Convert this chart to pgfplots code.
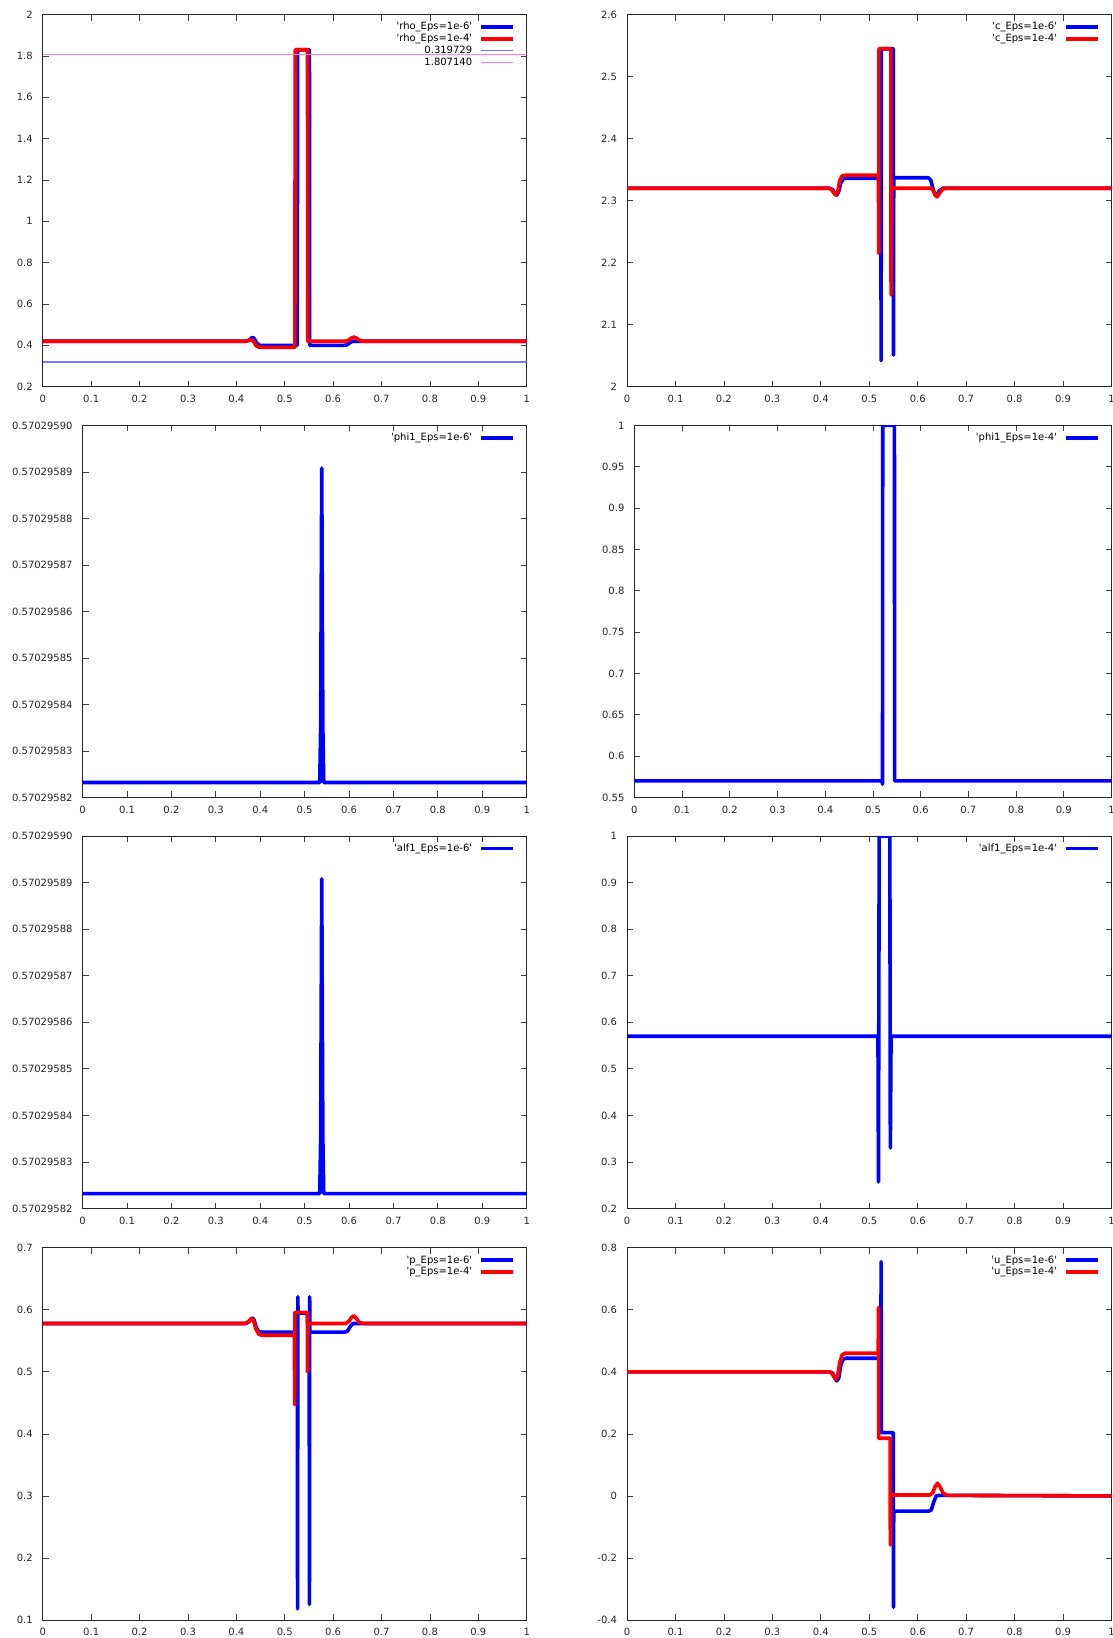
\documentclass[border=0pt]{standalone}
\usepackage{fontspec}
\setmainfont{DejaVu Sans}
\usepackage{pgfplots}
\pgfplotsset{compat=1.18}
\definecolor{lblue}{RGB}{120,120,255}
\definecolor{lmag}{RGB}{255,120,255}
\newcommand{\sq}{\textquotesingle}
\pgfplotsset{
  gp/.style={
    scale only axis, xmin=0, xmax=1,
    xtick={0,0.1,0.2,0.3,0.4,0.5,0.6,0.7,0.8,0.9,1},
    tick align=inside, xtick pos=both, ytick pos=both,
    major tick length=6pt,
    axis line style={line width=1pt, black!85},
    every tick/.style={black!75, line width=0.8pt},
    tick label style={font=\fontsize{10}{12}\selectfont, black!85},
    /pgf/number format/assume math mode=true,
    yticklabel style={xshift=-6.5pt},
    xticklabel style={yshift=-5pt},
    legend plot pos=right,
    legend cell align=right,
    legend image code/.code={\draw[##1,line cap=butt] (0pt,0pt) -- (32pt,0pt);},
    legend style={at={(1,1)}, anchor=north east, xshift=-11.7pt, yshift=-6.3pt,
      draw=none, fill=none, inner sep=0pt, font=\fontsize{10}{12}\selectfont,
      column sep=6pt,
      nodes={inner sep=1pt, text height=0.78em, text depth=0.2em}},
  },
  bl/.style={color=blue, line width=3.6pt, line join=round, mark=none},
  rd/.style={color=red, line width=3.6pt, line join=round, mark=none},
}
\begin{document}
\begin{tikzpicture}
\path[use as bounding box] (0pt,0pt) rectangle (1113pt,-1638pt);
% ---------- row 1 left: rho
\begin{axis}[gp, at={(42.8pt,-386.7pt)}, anchor=south west, width=483.9pt, height=372.1pt,
  ymin=0.2, ymax=2, ytick={0.2,0.4,0.6,0.8,1,1.2,1.4,1.6,1.8,2}]
\addplot[bl] coordinates {(0,0.42) (0.420,0.42) (0.426,0.424) (0.432,0.437) (0.436,0.436) (0.441,0.415) (0.446,0.402) (0.450,0.40) (0.526,0.40) (0.5265,1.83) (0.551,1.83) (0.5515,0.40) (0.622,0.40) (0.628,0.402) (0.634,0.412) (0.640,0.42) (1,0.42)};
\addlegendentry{\sq rho\_Eps=1e-6\sq}
\addplot[rd] coordinates {(0,0.42) (0.418,0.42) (0.425,0.424) (0.430,0.428) (0.436,0.418) (0.441,0.398) (0.447,0.391) (0.452,0.39) (0.521,0.39) (0.5215,1.83) (0.547,1.83) (0.5475,0.42) (0.625,0.42) (0.632,0.425) (0.638,0.436) (0.643,0.44) (0.648,0.435) (0.654,0.425) (0.660,0.421) (0.666,0.42) (1,0.42)};
\addlegendentry{\sq rho\_Eps=1e-4\sq}
\addplot[color=lblue, line width=1.3pt, mark=none] coordinates {(0,0.319729) (1,0.319729)};
\addlegendentry{0.319729}
\addplot[color=lmag, line width=1.3pt, mark=none] coordinates {(0,1.807140) (1,1.807140)};
\addlegendentry{1.807140}
\end{axis}
% ---------- row 1 right: c
\begin{axis}[gp, at={(627pt,-386.7pt)}, anchor=south west, width=484.5pt, height=372.1pt,
  ymin=2, ymax=2.6, ytick={2,2.1,2.2,2.3,2.4,2.5,2.6}]
\addplot[bl] coordinates {(0,2.32) (0.418,2.32) (0.424,2.318) (0.429,2.311) (0.433,2.309) (0.437,2.315) (0.441,2.328) (0.446,2.335) (0.452,2.336) (0.524,2.336) (0.5245,2.042) (0.525,2.545) (0.5495,2.545) (0.550,2.051) (0.5505,2.337) (0.622,2.337) (0.627,2.333) (0.632,2.318) (0.636,2.309) (0.640,2.31) (0.645,2.316) (0.652,2.32) (1,2.32)};
\addlegendentry{\sq c\_Eps=1e-6\sq}
\addplot[rd] coordinates {(0,2.32) (0.416,2.32) (0.422,2.318) (0.427,2.312) (0.431,2.309) (0.435,2.315) (0.439,2.332) (0.444,2.340) (0.450,2.341) (0.519,2.341) (0.5195,2.215) (0.520,2.545) (0.5445,2.545) (0.545,2.148) (0.5455,2.32) (0.626,2.32) (0.631,2.318) (0.636,2.309) (0.640,2.306) (0.645,2.312) (0.652,2.319) (0.66,2.32) (1,2.32)};
\addlegendentry{\sq c\_Eps=1e-4\sq}
\end{axis}
% ---------- row 2 left: phi1 1e-6 (offset from 0.57029582 in units of 1e-8)
\begin{axis}[gp, at={(82.6pt,-797.4pt)}, anchor=south west, width=444.1pt, height=372pt,
  ymin=0, ymax=8, ytick={0,1,2,3,4,5,6,7,8},
  yticklabels={0.57029582,0.57029583,0.57029584,0.57029585,0.57029586,0.57029587,0.57029588,0.57029589,0.57029590}]
\addplot[bl] coordinates {(0,0.32) (0.534,0.32) (0.536,1.5) (0.5385,7.08) (0.541,1.5) (0.543,0.32) (1,0.32)};
\addlegendentry{\sq phi1\_Eps=1e-6\sq}
\end{axis}
% ---------- row 2 right: phi1 1e-4
\begin{axis}[gp, at={(634.4pt,-797.4pt)}, anchor=south west, width=477.1pt, height=372pt,
  ymin=0.55, ymax=1, ytick={0.55,0.6,0.65,0.7,0.75,0.8,0.85,0.9,0.95,1}]
\addplot[bl] coordinates {(0,0.57) (0.519,0.57) (0.520,0.566) (0.5205,1.0) (0.545,1.0) (0.5455,0.57) (1,0.57)};
\addlegendentry{\sq phi1\_Eps=1e-4\sq}
\end{axis}
% ---------- row 3 left: alf1 1e-6
\begin{axis}[gp, at={(82.6pt,-1208.5pt)}, anchor=south west, width=444.1pt, height=372.5pt,
  ymin=0, ymax=8, ytick={0,1,2,3,4,5,6,7,8},
  yticklabels={0.57029582,0.57029583,0.57029584,0.57029585,0.57029586,0.57029587,0.57029588,0.57029589,0.57029590}]
\addplot[bl] coordinates {(0,0.32) (0.534,0.32) (0.536,1.5) (0.5385,7.08) (0.541,1.5) (0.543,0.32) (1,0.32)};
\addlegendentry{\sq alf1\_Eps=1e-6\sq}
\end{axis}
% ---------- row 3 right: alf1 1e-4
\begin{axis}[gp, at={(627pt,-1208.5pt)}, anchor=south west, width=484.5pt, height=372.5pt,
  ymin=0.2, ymax=1, ytick={0.2,0.3,0.4,0.5,0.6,0.7,0.8,0.9,1}]
\addplot[bl] coordinates {(0,0.57) (0.518,0.57) (0.519,0.257) (0.5205,1.0) (0.5425,1.0) (0.5435,0.33) (0.545,0.57) (1,0.57)};
\addlegendentry{\sq alf1\_Eps=1e-4\sq}
\end{axis}
% ---------- row 4 left: p
\begin{axis}[gp, at={(42.8pt,-1620pt)}, anchor=south west, width=483.9pt, height=372.2pt,
  ymin=0.1, ymax=0.7, ytick={0.1,0.2,0.3,0.4,0.5,0.6,0.7}]
\addplot[bl] coordinates {(0,0.578) (0.42,0.578) (0.426,0.581) (0.432,0.587) (0.436,0.585) (0.441,0.572) (0.446,0.565) (0.452,0.564) (0.526,0.564) (0.5265,0.118) (0.527,0.621) (0.5275,0.595) (0.5505,0.595) (0.551,0.125) (0.5515,0.621) (0.552,0.564) (0.624,0.564) (0.630,0.566) (0.636,0.574) (0.641,0.578) (1,0.578)};
\addlegendentry{\sq p\_Eps=1e-6\sq}
\addplot[rd] coordinates {(0,0.578) (0.418,0.578) (0.425,0.581) (0.431,0.586) (0.435,0.584) (0.440,0.570) (0.446,0.561) (0.452,0.559) (0.520,0.559) (0.5205,0.447) (0.521,0.596) (0.5465,0.596) (0.547,0.50) (0.5475,0.578) (0.626,0.578) (0.633,0.582) (0.638,0.588) (0.643,0.5905) (0.648,0.586) (0.654,0.58) (0.662,0.578) (1,0.578)};
\addlegendentry{\sq p\_Eps=1e-4\sq}
\end{axis}
% ---------- row 4 right: u
\begin{axis}[gp, at={(627pt,-1620pt)}, anchor=south west, width=484.5pt, height=372.2pt,
  ymin=-0.4, ymax=0.8, ytick={-0.4,-0.2,0,0.2,0.4,0.6,0.8}]
\addplot[bl] coordinates {(0,0.40) (0.418,0.40) (0.424,0.397) (0.429,0.38) (0.433,0.371) (0.437,0.38) (0.441,0.42) (0.446,0.441) (0.452,0.444) (0.524,0.444) (0.5245,0.755) (0.525,0.204) (0.5495,0.204) (0.550,-0.359) (0.5505,-0.049) (0.623,-0.049) (0.628,-0.045) (0.633,-0.02) (0.638,0.0) (0.645,0.002) (1,0.0)};
\addlegendentry{\sq u\_Eps=1e-6\sq}
\addplot[rd] coordinates {(0,0.40) (0.416,0.40) (0.422,0.397) (0.427,0.385) (0.431,0.375) (0.435,0.39) (0.439,0.43) (0.444,0.455) (0.45,0.46) (0.5185,0.46) (0.519,0.608) (0.5195,0.186) (0.543,0.186) (0.5435,-0.158) (0.544,0.003) (0.625,0.003) (0.631,0.01) (0.636,0.03) (0.641,0.041) (0.646,0.03) (0.652,0.01) (0.66,0.002) (1,0.0)};
\addlegendentry{\sq u\_Eps=1e-4\sq}
\end{axis}
\end{tikzpicture}
\end{document}
